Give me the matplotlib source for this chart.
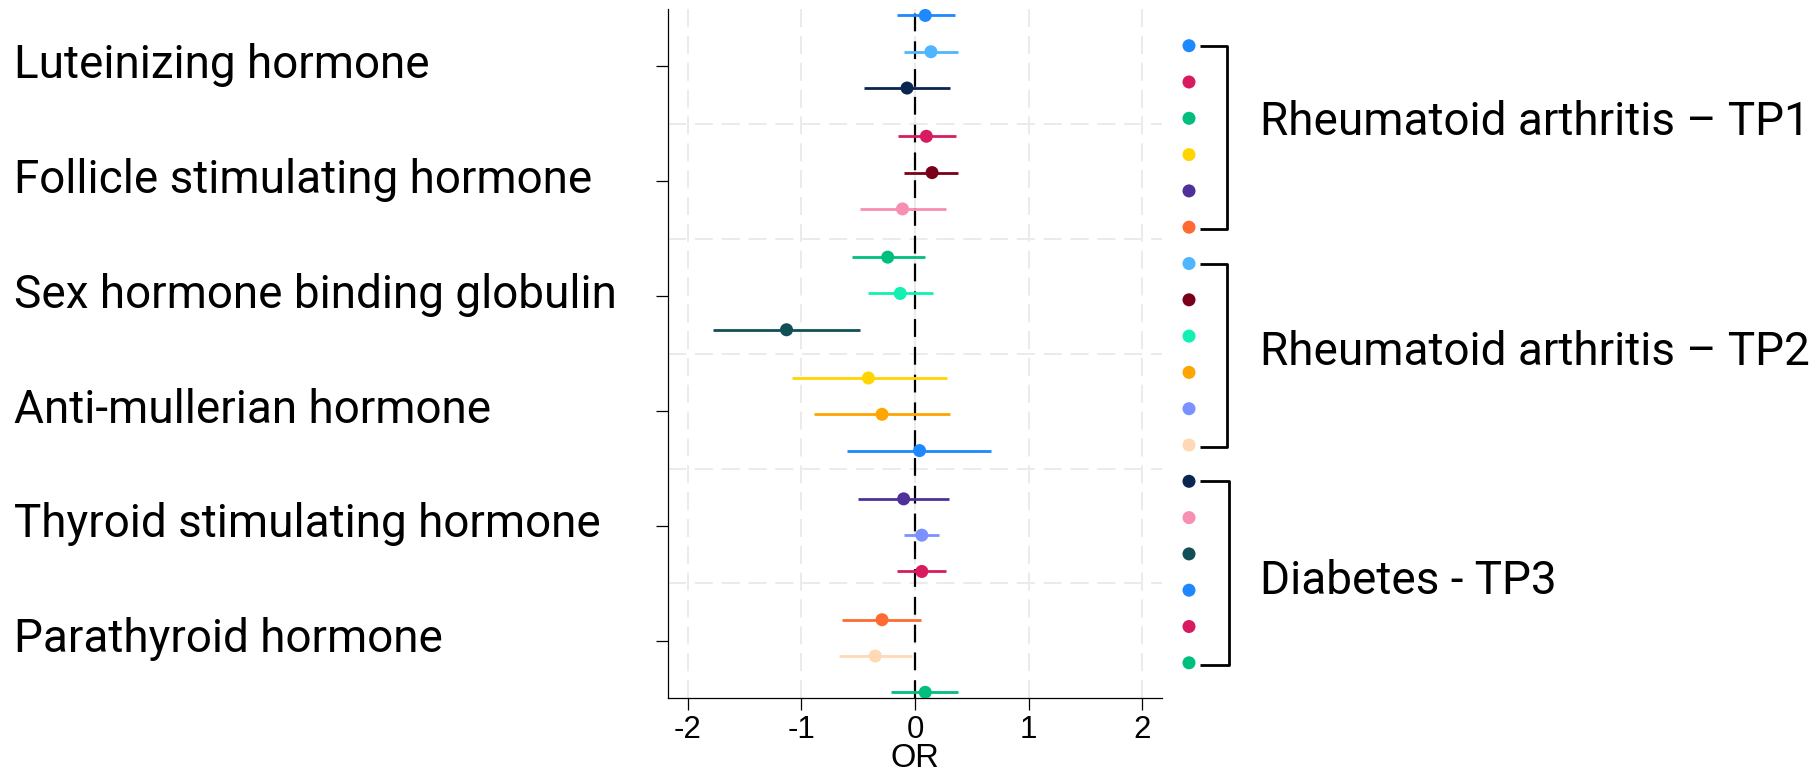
import numpy as np
import matplotlib
matplotlib.use("Agg")
import matplotlib.pyplot as plt
import matplotlib.transforms as mtransforms

plt.rcParams['font.family'] = ['Liberation Sans', 'DejaVu Sans']

hormones = ["Luteinizing hormone", "Follicle stimulating hormone",
            "Sex hormone binding globulin", "Anti-mullerian hormone",
            "Thyroid stimulating hormone", "Parathyroid hormone"]
outcomes = ["Rheumatoid arthritis \u2013 TP1", "Rheumatoid arthritis \u2013 TP2",
            "Diabetes - TP3"]

# estimates and CI per outcome, one value per hormone (top to bottom)
tp1_est = [0.09, 0.10, -0.24, -0.41, -0.10, -0.29]
tp1_lo = [-0.16, -0.15, -0.55, -1.08, -0.50, -0.64]
tp1_hi = [0.35, 0.36, 0.09, 0.28, 0.30, 0.05]

tp2_est = [0.14, 0.15, -0.13, -0.29, 0.06, -0.35]
tp2_lo = [-0.10, -0.10, -0.41, -0.89, -0.10, -0.67]
tp2_hi = [0.38, 0.38, 0.16, 0.31, 0.21, -0.03]

tp3_est = [-0.07, -0.11, -1.13, 0.04, 0.06, 0.09]
tp3_lo = [-0.45, -0.48, -1.78, -0.60, -0.16, -0.21]
tp3_hi = [0.31, 0.27, -0.48, 0.67, 0.27, 0.38]

tp1_col = ["#1E88FF", "#D81B60", "#00BF7D", "#FFD500", "#4F2F99", "#FF6A33"]
tp2_col = ["#4DB6FF", "#7A0019", "#12F0B2", "#FFA500", "#7B91FF", "#FFD8B5"]
tp3_col = ["#0B2550", "#F78FB0", "#0F4F55", "#1E88FF", "#D81B60", "#00BF7D"]

est = [tp1_est, tp2_est, tp3_est]
lo = [tp1_lo, tp2_lo, tp3_lo]
hi = [tp1_hi, tp2_hi, tp3_hi]
cols = [tp1_col, tp2_col, tp3_col]

fig = plt.figure(figsize=(18.18, 7.73), dpi=100)
W, H = 1818, 773
ax = fig.add_axes([668.3 / W, (H - 698.3) / H, 493.4 / W, 689.3 / H])

y_top, row_step, group_step = 6.444, 0.316, 1.052
for j in range(3):
    g = np.arange(len(hormones))
    y = y_top - g * group_step - j * row_step
    ax.hlines(y, lo[j], hi[j], colors=cols[j], lw=2.0, zorder=2)
    ax.scatter(est[j], y, c=cols[j], s=88, zorder=3, linewidths=0)

ax.axvline(0, color="black", lw=1.6, ls=(0, (8, 4.5)), zorder=1.5)

ax.set_xlim(-2.17, 2.17)
ax.set_ylim(0.5, 6.5)
ax.set_xticks([-2, -1, 0, 1, 2])
ax.set_xticklabels(["-2", "-1", "0", "1", "2"])
ax.set_yticks(range(1, 7))
ax.set_yticklabels([])
ax.set_yticks(np.arange(1.5, 6.5, 1), minor=True)
ax.tick_params(which="major", length=8.4, width=0.9, labelsize=22.5, pad=3.5)
ax.tick_params(which="minor", length=0)
ax.set_axisbelow(True)
ax.grid(axis="x", which="major", color="#EBEBEB", lw=1.4, ls=(0, (9.3, 4.5)))
ax.grid(axis="y", which="minor", color="#EBEBEB", lw=1.4, ls=(0, (9.3, 4.5)))
for s in ["top", "right"]:
    ax.spines[s].set_visible(False)
for s in ["left", "bottom"]:
    ax.spines[s].set_linewidth(0.9)
ax.set_xlabel("OR", fontsize=23.5, labelpad=-1)

# hormone names on the left, baseline just under each tick
tr = mtransforms.blended_transform_factory(fig.transFigure, ax.transData)
for i, name in enumerate(hormones):
    ax.text(14 / W, 6 - i - 0.10, name, transform=tr, ha="left", va="baseline",
            family="Roboto", fontsize=33)

# colour key with brackets on the right
lax = fig.add_axes([1170 / W, (H - 680.95) / H, 648 / W, 653.4 / H])
lax.set_xlim(0, 648)
lax.set_ylim(17.5, -0.5)
lax.axis("off")
key_cols = tp1_col + tp2_col + tp3_col
lax.scatter([19] * len(key_cols), range(len(key_cols)), c=key_cols, s=88, linewidths=0)

label_rows = [2.45, 8.8, 15.1]
bracket_right = [57, 57, 59]
for b, name in enumerate(outcomes):
    k0, k1 = b * 6, b * 6 + 5
    xr = bracket_right[b]
    lax.plot([30, xr, xr, 30], [k0, k0, k1 + 0.05, k1 + 0.05], color="black",
             lw=2.0, solid_joinstyle="round", solid_capstyle="butt")
    lax.text(90, label_rows[b], name, ha="left", va="baseline",
             family="Roboto", fontsize=33)

fig.savefig("out.png", dpi=100)
